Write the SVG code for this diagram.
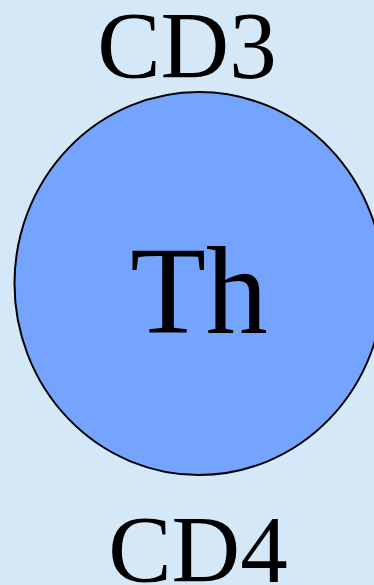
<svg xmlns="http://www.w3.org/2000/svg" width="374" height="585" viewBox="0 0 374 585">
<style>
text{font-family:"Liberation Serif","Times New Roman",serif;fill:#000;text-anchor:middle}
.lbl{font-size:95px}
</style>
<rect x="0" y="0" width="374" height="585" fill="#d5e8f8"/>
<g id="cell">
<ellipse cx="199" cy="283.5" rx="184.5" ry="191.5" fill="#75a4fe" stroke="#000" stroke-width="2"/>
<text x="199" y="333" font-size="124">Th</text>
</g>
<g id="cd3"><text class="lbl" x="187" y="78">CD3</text></g>
<g id="cd4"><text class="lbl" x="198" y="582">CD4</text></g>
<g id="connectors"></g>
</svg>
